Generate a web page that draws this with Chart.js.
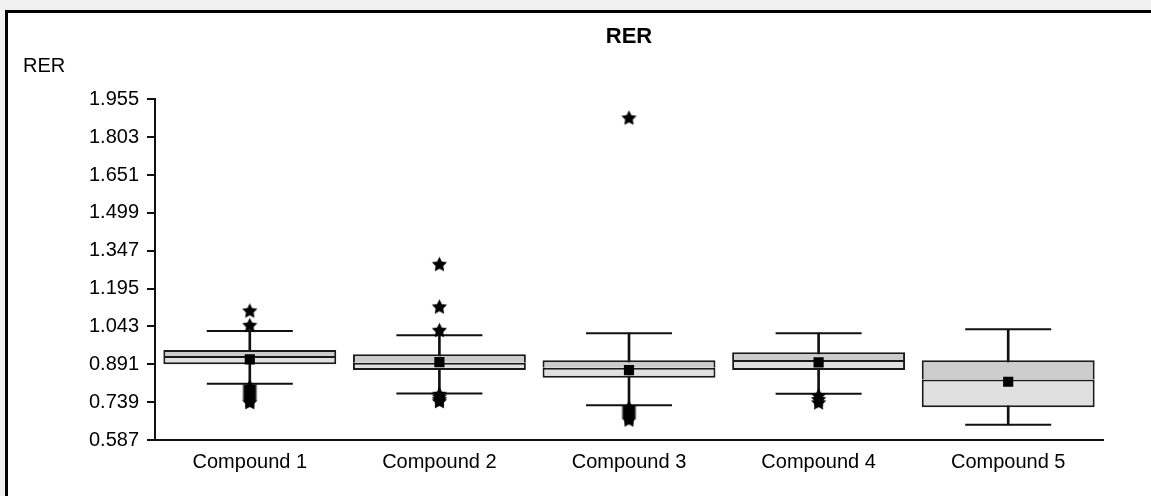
<!DOCTYPE html>
<html>
<head>
<meta charset="utf-8">
<script src="https://cdn.jsdelivr.net/npm/chart.js@4"></script>
<style>
  html, body { margin:0; padding:0; background:#f0f0f0; width:1151px; height:496px; overflow:hidden; }
  #frame { position:absolute; left:5px; top:10px; width:1200px; height:600px; border:3px solid #000; background:#fff; }
  #c { position:absolute; left:0; top:0; }
</style>
</head>
<body>
<div id="frame"></div>
<canvas id="c" width="1151" height="496"></canvas>
<script>
const categories = ['Compound 1', 'Compound 2', 'Compound 3', 'Compound 4', 'Compound 5'];
const whiskerLow  = [0.813, 0.774, 0.727, 0.773, 0.648];
const q1          = [0.891, 0.868, 0.837, 0.868, 0.719];
const median      = [0.924, 0.897, 0.877, 0.908, 0.830];
const q3          = [0.948, 0.931, 0.907, 0.939, 0.907];
const whiskerHigh = [1.025, 1.008, 1.016, 1.016, 1.032];
const means       = [0.911, 0.900, 0.868, 0.899, 0.821];
const outliers1 = [1.106, 1.048, 0.800, 0.792, 0.784, 0.776, 0.768, 0.760, 0.752, 0.744, 0.738];
const outliers2 = [1.293, 1.122, 1.028, 0.771, 0.760, 0.750, 0.742];
const outliers3 = [1.881, 0.716, 0.708, 0.700, 0.692, 0.684, 0.676, 0.668];
const outliers4 = [0.765, 0.750, 0.737];
const outliers5 = [];
const yTicks = [0.587, 0.739, 0.891, 1.043, 1.195, 1.347, 1.499, 1.651, 1.803, 1.955];
const chartTitle = 'RER';
const yLabel = 'RER';

const outlierLists = [outliers1, outliers2, outliers3, outliers4, outliers5];
const outlierPoints = [];
outlierLists.forEach((list, i) => list.forEach(v => outlierPoints.push({ x: categories[i], y: v })));

// filled five-point star marker
const star = document.createElement('canvas');
star.width = 17; star.height = 17;
(function () {
  const g = star.getContext('2d');
  g.fillStyle = '#000';
  g.beginPath();
  for (let k = 0; k < 10; k++) {
    const r = k % 2 === 0 ? 8 : 4;
    const a = -Math.PI / 2 + k * Math.PI / 5;
    const px = 8.5 + r * Math.cos(a), py = 9 + r * Math.sin(a);
    if (k === 0) g.moveTo(px, py); else g.lineTo(px, py);
  }
  g.closePath();
  g.fill();
})();

const FONT = "'Liberation Sans', Arial, sans-serif";
Chart.defaults.color = '#000';
Chart.defaults.font.family = FONT;

const yLabelPlugin = {
  id: 'yLabel',
  afterDraw(chart) {
    const ctx = chart.ctx;
    ctx.save();
    ctx.font = '20px ' + FONT;
    ctx.fillStyle = '#000';
    ctx.textBaseline = 'alphabetic';
    ctx.textAlign = 'left';
    ctx.fillText(yLabel, 23, 72);
    ctx.restore();
  }
};

new Chart(document.getElementById('c'), {
  data: {
    labels: categories,
    datasets: [
      { type: 'line', data: outlierPoints, showLine: false, pointStyle: star, pointRadius: 8, order: 0 },
      { type: 'line', data: means.map((v, i) => ({ x: categories[i], y: v })), showLine: false,
        pointStyle: 'rect', pointRadius: 7.2, pointBackgroundColor: '#000', pointBorderColor: '#000', pointBorderWidth: 0, order: 1 },
      { type: 'line', data: whiskerHigh.map((v, i) => ({ x: categories[i], y: v })), showLine: false,
        pointStyle: 'line', pointRadius: 43, pointBorderColor: '#111', pointBorderWidth: 2, order: 2 },
      { type: 'line', data: whiskerLow.map((v, i) => ({ x: categories[i], y: v })), showLine: false,
        pointStyle: 'line', pointRadius: 43, pointBorderColor: '#111', pointBorderWidth: 2, order: 2 },
      { type: 'bar', data: median.map((v, i) => [v, q3[i]]), backgroundColor: '#cccccc', borderColor: '#1a1a1a',
        borderWidth: { top: 2, left: 2, right: 2, bottom: 0 }, borderSkipped: false, grouped: false,
        barPercentage: 0.912, categoryPercentage: 1, order: 3 },
      { type: 'bar', data: q1.map((v, i) => [v, median[i]]), backgroundColor: '#e0e0e0', borderColor: '#1a1a1a',
        borderWidth: { top: 2, left: 2, right: 2, bottom: 2 }, borderSkipped: false, grouped: false,
        barPercentage: 0.912, categoryPercentage: 1, order: 4 },
      { type: 'bar', data: whiskerLow.map((v, i) => [v, whiskerHigh[i]]), backgroundColor: '#111',
        borderWidth: 0, grouped: false, barThickness: 2, order: 5 }
    ]
  },
  options: {
    responsive: false,
    animation: false,
    events: [],
    layout: { padding: { left: 0, right: 48, top: 0, bottom: 0 } },
    plugins: {
      legend: { display: false },
      tooltip: { enabled: false },
      title: { display: true, text: chartTitle, fullSize: false, color: '#000',
        font: { size: 22, weight: 'bold', family: FONT }, padding: { top: 24, bottom: 49 } }
    },
    scales: {
      x: {
        type: 'category',
        offset: true,
        grid: { display: false },
        border: { display: true, color: '#111', width: 2 },
        ticks: { font: { size: 20, family: FONT }, color: '#000', padding: 2, maxRotation: 0 },
        afterFit(scale) { scale.height = 56; }
      },
      y: {
        type: 'linear',
        min: yTicks[0],
        max: yTicks[yTicks.length - 1],
        afterBuildTicks(scale) { scale.ticks = yTicks.map(v => ({ value: v })); },
        grid: { drawOnChartArea: false, drawTicks: true, tickLength: 8, color: '#111', lineWidth: 2 },
        border: { display: true, color: '#111', width: 2 },
        ticks: { font: { size: 20, family: FONT }, color: '#000', padding: 8,
          callback: v => v.toFixed(3) },
        afterFit(scale) { scale.width = 155; }
      }
    }
  },
  plugins: [yLabelPlugin]
});
</script>
</body>
</html>
